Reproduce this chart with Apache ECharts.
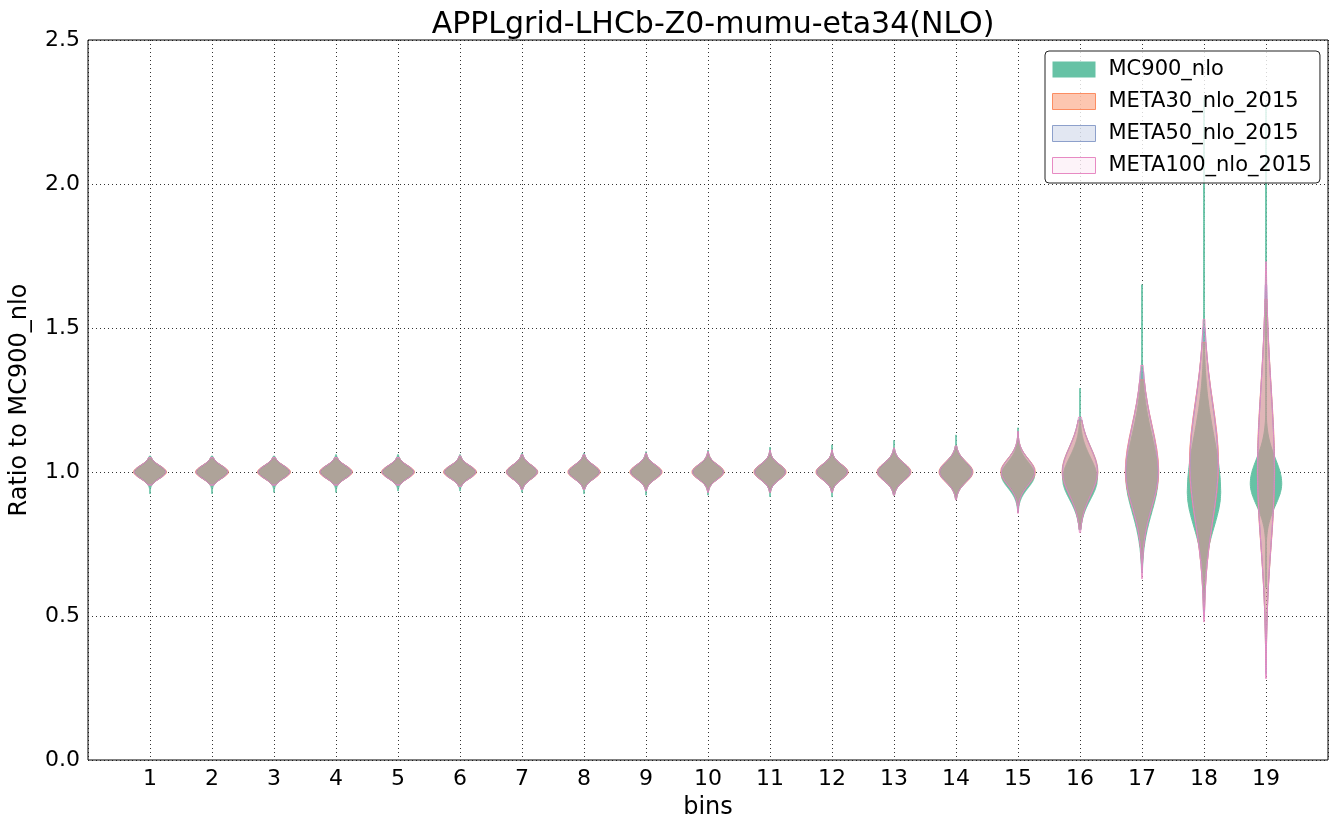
<!DOCTYPE html>
<html>
<head>
<meta charset="utf-8">
<script src="https://cdn.jsdelivr.net/npm/echarts@6/dist/echarts.min.js"></script>
<style>
html,body{margin:0;padding:0;background:#fff;}
#chart{width:1337px;height:830px;}
</style>
</head>
<body>
<div id="chart"></div>
<script>
// ---- data ----
const bins = [1,2,3,4,5,6,7,8,9,10,11,12,13,14,15,16,17,18,19];
const yTickLabels = ['0.0','0.5','1.0','1.5','2.0','2.5'];
const seriesNames = ['MC900_nlo','META30_nlo_2015','META50_nlo_2015','META100_nlo_2015'];

// MC900_nlo violins: centre, spread up, spread down, half width (bin units), min, max
const mcCenter = [1,1,1,1,1,1,1,1,1,1,1,1,1,1,0.99,0.975,0.98,0.93,0.96];
const mcSigUp  = [.022,.022,.022,.022,.022,.022,.024,.024,.024,.025,.026,.026,.03,.035,.045,.075,.15,.19,.085];
const mcSigDn  = [.022,.022,.022,.022,.022,.022,.024,.024,.024,.025,.026,.026,.03,.035,.045,.07,.12,.12,.075];
const mcWidth  = [.255,.255,.255,.255,.255,.255,.245,.25,.25,.25,.25,.25,.265,.265,.27,.28,.26,.27,.255];
const mcLo     = [.925,.925,.93,.93,.935,.935,.93,.925,.92,.92,.915,.914,.92,.905,.86,.80,.66,.55,.60];
const mcHi     = [1.055,1.055,1.055,1.06,1.06,1.06,1.065,1.065,1.07,1.075,1.085,1.094,1.109,1.128,1.153,1.29,1.65,2.3,2.28];

// META sets (shapes look alike)
const metaCenter = [1,1,1,1,1,1,1,1,1,1,1,1,1,1,1.0,1.0,1.0,1.03,1.0];
const metaSigUp  = [.022,.022,.022,.022,.022,.022,.024,.024,.024,.025,.026,.026,.03,.035,.045,.085,.16,.21,.29];
const metaSigDn  = [.022,.022,.022,.022,.022,.022,.024,.024,.024,.025,.026,.026,.03,.035,.045,.08,.12,.2,.25];

const m30Width = [.265,.265,.265,.265,.265,.265,.255,.26,.26,.26,.26,.26,.275,.275,.28,.29,.27,.235,.14];
const m30Lo    = [.955,.955,.955,.955,.955,.95,.94,.94,.935,.93,.93,.93,.92,.905,.86,.80,.66,.52,.33];
const m30Hi    = [1.05,1.05,1.05,1.05,1.05,1.055,1.06,1.06,1.065,1.07,1.075,1.076,1.083,1.09,1.14,1.18,1.32,1.45,1.6];

const m50Width = [.255,.255,.255,.255,.255,.255,.245,.25,.25,.25,.25,.25,.265,.265,.27,.285,.26,.225,.135];
const m50Lo    = [.955,.955,.955,.955,.955,.95,.94,.94,.935,.93,.93,.93,.92,.905,.86,.80,.65,.50,.30];
const m50Hi    = [1.05,1.05,1.05,1.05,1.05,1.055,1.06,1.06,1.065,1.07,1.075,1.076,1.083,1.09,1.14,1.18,1.35,1.5,1.65];

const m100Width = [.255,.255,.255,.255,.255,.255,.245,.25,.25,.25,.25,.25,.265,.265,.27,.28,.265,.23,.135];
const m100Lo    = [.955,.955,.955,.955,.955,.95,.94,.94,.935,.93,.93,.93,.92,.903,.857,.79,.63,.48,.283];
const m100Hi    = [1.05,1.05,1.05,1.05,1.05,1.055,1.06,1.06,1.065,1.07,1.075,1.076,1.083,1.09,1.14,1.19,1.37,1.53,1.73];

// normalised violin profile (density vs. distance in spreads, step 0.25)
const profile = [1,.969,.8825,.7548,.6065,.4578,.3247,.2163,.1353,.0796,.0439,.0228,.0111,.0051,.0022,.0009,.0003];

// ---- build ----
function prof(t){
  t = Math.abs(t) / 0.25;
  const i = Math.floor(t);
  if (i >= profile.length - 1) return 0;
  const f = t - i;
  return profile[i] * (1 - f) + profile[i + 1] * f;
}
function rows(center, su, sd, w, lo, hi){
  return bins.map((b, i) => [b, center[i], su[i], sd[i], w[i], lo[i], hi[i]]);
}
const styles = [
  {fill:'rgba(102,194,165,1)',  stroke:'#66c2a5'},
  {fill:'rgba(252,141,98,0.5)', stroke:'#fc8d62'},
  {fill:'rgba(141,160,203,0.25)', stroke:'#8da0cb'},
  {fill:'rgba(231,138,195,0.1)', stroke:'#e78ac3'}
];
const datasets = [
  rows(mcCenter, mcSigUp, mcSigDn, mcWidth, mcLo, mcHi),
  rows(metaCenter, metaSigUp, metaSigDn, m30Width, m30Lo, m30Hi),
  rows(metaCenter, metaSigUp, metaSigDn, m50Width, m50Lo, m50Hi),
  rows(metaCenter, metaSigUp, metaSigDn, m100Width, m100Lo, m100Hi)
];
function makeRender(st){
  return function(params, api){
    const x = api.value(0), c = api.value(1), su = api.value(2), sd = api.value(3),
          W = api.value(4), lo = api.value(5), hi = api.value(6);
    const N = 240, right = [], left = [];
    for (let k = 0; k <= N; k++){
      const y = lo + (hi - lo) * k / N;
      const t = (y - c) / (y > c ? su : sd);
      const h = Math.max(W * prof(t), 0.006);
      right.push(api.coord([x + h, y]));
      left.push(api.coord([x - h, y]));
    }
    const pts = right.concat(left.reverse());
    return {type:'polygon', shape:{points:pts}, style:{fill:st.fill, stroke:st.stroke, lineWidth:1}};
  };
}
const series = seriesNames.map((n, i) => ({
  name:n, type:'custom', renderItem:makeRender(styles[i]), data:datasets[i],
  encode:{x:0, y:[5,6]}, z:2+i, itemStyle:{color:styles[i].stroke}
}));

const chart = echarts.init(document.getElementById('chart'), null, {renderer:'canvas'});
const font = 'DejaVu Sans';
chart.setOption({
  animation:false,
  backgroundColor:'#fff',
  title:{text:'APPLgrid-LHCb-Z0-mumu-eta34(NLO)', left:708, top:5, textAlign:'center',
    textStyle:{fontFamily:font, fontSize:30, fontWeight:'normal', color:'#000'}},
  grid:{left:88, right:9, top:40, bottom:70, show:true, borderColor:'#000', borderWidth:1, backgroundColor:'transparent'},
  legend:{
    orient:'vertical', left:1045, top:51, padding:[8,8,7,7], itemGap:11,
    itemWidth:43, itemHeight:16, icon:'rect',
    backgroundColor:'rgba(255,255,255,0.8)', borderColor:'#222', borderWidth:1, borderRadius:4,
    textStyle:{fontFamily:font, fontSize:21, color:'#000', lineHeight:20, padding:[0,0,0,8]},
    data:seriesNames.map((n, i) => ({name:n, itemStyle:{color:styles[i].fill, borderColor:styles[i].stroke, borderWidth:i===0?0:1}})),
    z:20
  },
  xAxis:{
    type:'value', min:0, max:20, interval:1,
    name:'bins', nameLocation:'middle', nameGap:36,
    nameTextStyle:{fontFamily:font, fontSize:24, color:'#000'},
    axisLine:{show:false}, axisTick:{show:false},
    axisLabel:{fontFamily:font, fontSize:22, color:'#000', margin:8,
      formatter:v => (bins.indexOf(v) >= 0 ? String(v) : '')},
    splitLine:{show:true, lineStyle:{color:'#000', type:[1,3], width:1, opacity:0.8}}
  },
  yAxis:{
    type:'value', min:0, max:2.5, interval:0.5,
    name:'Ratio to MC900_nlo', nameLocation:'middle', nameGap:56, nameRotate:90,
    nameTextStyle:{fontFamily:font, fontSize:24, color:'#000'},
    axisLine:{show:false}, axisTick:{show:false},
    axisLabel:{fontFamily:font, fontSize:22, color:'#000', margin:8,
      formatter:v => yTickLabels[Math.round(v / 0.5)]},
    splitLine:{show:true, lineStyle:{color:'#000', type:[1,3], width:1, opacity:0.8}}
  },
  series:series
});
</script>
</body>
</html>
